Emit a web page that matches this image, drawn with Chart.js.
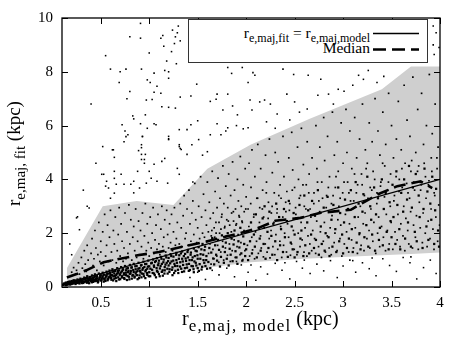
<!DOCTYPE html>
<html>
<head>
<meta charset="utf-8">
<script src="https://cdn.jsdelivr.net/npm/chart.js@4.4.1/dist/chart.umd.min.js"></script>
<style>
  body { margin:0; background:#fff; }
  #wrap { position:relative; width:463px; height:348px; font-family:'Liberation Serif','DejaVu Serif',serif; color:#000; }
  canvas { position:absolute; left:0; top:0; }
  .ttl { position:absolute; font-size:19px; line-height:19px; white-space:nowrap; }
  .ttl sub { font-size:15px; vertical-align:-5px; line-height:0; }
  #xtitle { font-size:20px; }
  #xtitle sub { font-size:17px; letter-spacing:1.2px; vertical-align:-6px; }
  #ytitle { transform:rotate(-90deg); transform-origin:0 0; }
  #legend { position:absolute; left:188px; top:19px; width:240px; height:44px; box-sizing:border-box;
            border:1px solid #333; background:#fff; }
  #legend .row { position:absolute; right:57px; font-size:15.5px; line-height:16px; white-space:nowrap; }
  #legend .row sub { font-size:12px; vertical-align:-4px; line-height:0; }
  #legend svg { position:absolute; left:0; top:0; }
</style>
</head>
<body>
<div id="wrap">
  <canvas id="chart" width="463" height="348"></canvas>
  <div class="ttl" id="xtitle" style="left:182px; top:309px;">r<sub>e,maj, model</sub> (kpc)</div>
  <div class="ttl" id="ytitle" style="left:4px; top:206px;">r<sub>e,maj, fit</sub> (kpc)</div>
  <div id="legend">
    <div class="row" style="top:5px;">r<sub>e,maj,fit</sub> = r<sub>e,maj,model</sub></div>
    <div class="row" style="top:20px;">Median</div>
    <svg width="238" height="42">
      <line x1="184" y1="13.5" x2="230" y2="13.5" stroke="#000" stroke-width="1.3"/>
      <line x1="184" y1="29.5" x2="230" y2="29.5" stroke="#000" stroke-width="2.6" stroke-dasharray="13,6"/>
    </svg>
  </div>
</div>
<script>
// ---------------------------------------------------------------------------
// data
// ---------------------------------------------------------------------------
const xTicks = [0.5, 1, 1.5, 2, 2.5, 3, 3.5, 4];
const yTicks = [0, 2, 4, 6, 8, 10];

// grey band (upper / lower envelope)
const bandX  = [0.15, 0.52, 0.87, 1.25, 1.6, 2.05, 2.65, 3.4, 3.7, 4.0];
const bandHi = [0.7,  3.0,  3.2,  3.05, 4.4, 5.3,  6.25, 7.35, 8.2, 8.2];
const bandLo = [0.08, 0.2,  0.38, 0.6,  0.72, 0.92, 1.06, 1.18, 1.23, 1.28];

// median curve
const medX = [0.15, 0.25, 0.35, 0.53, 0.7, 0.88, 1.1, 1.4, 1.6, 1.91, 2.11, 2.3, 2.56, 2.77, 3.08, 3.36, 3.56, 3.8, 3.92];
const medY = [0.35, 0.48, 0.62, 0.92, 1.05, 1.18, 1.3, 1.54, 1.7, 1.98, 2.17, 2.46, 2.57, 2.76, 2.87, 3.45, 3.75, 3.93, 3.68];

// one-to-one line
const unitX = [0.1, 4];
const unitY = [0.1, 4];

// scattered galaxies, above the band
const outlierPts = [
[0.91,9.8],[0.8,9.3],[0.91,9.25],[1.12,9.25],[1.14,9.35],[1.24,9.55],[1.27,9.3],[1.3,9.7],[1.26,9.05],[1.32,9.15],[1.29,9.45],
[1.15,8.95],[1.23,8.75],[1.18,8.4],[1.2,8.0],[1.16,8.05],[1.28,8.3],[0.6,8.1],[0.7,8.0],[0.76,8.1],[0.92,8.1],[1.05,7.95],
[0.69,7.6],[0.8,7.27],[0.77,7.0],[0.98,7.7],[1.01,7.6],[1.08,7.46],[1.05,7.24],[1.12,7.2],[0.97,6.95],[1.03,6.97],[1.2,7.76],
[1.13,6.7],[1.2,6.68],[1.27,6.65],[1.32,7.06],[1.43,7.1],[1.49,7.54],[0.83,6.36],[0.96,6.4],[0.72,6.03],[0.75,5.8],[0.78,5.66],
[0.74,5.4],[0.91,6.07],[0.93,5.6],[0.98,5.9],[1.05,6.07],[1.07,6.03],[1.2,5.6],[1.2,5.48],[1.31,5.85],[1.39,5.85],[1.43,6.03],
[1.5,6.18],[0.52,5.22],[0.62,5.1],[0.92,5.18],[0.89,5.07],[1.31,5.29],[1.32,5.15],[1.44,5.29],[1.51,5.48],[1.63,5.66],[1.74,5.66],
[1.7,6.07],[1.81,5.92],[1.79,5.8],[1.97,5.88],[2.02,5.92],[1.63,6.9],[1.69,6.98],[1.7,7.17],[1.81,7.17],[1.76,6.58],[1.86,6.73],
[1.91,6.4],[1.81,8.16],[1.96,8.16],[2.02,7.6],[2.04,6.95],[2.07,7.97],[1.85,7.94],
[0.76,5.59],[0.93,5.59],[1.2,5.51],[0.63,5.1],[0.64,4.82],[0.92,4.93],[0.92,4.74],[0.96,4.93],[0.95,4.6],[1.05,4.56],[1.13,4.67],
[1.16,4.78],[1.31,5.22],[1.33,5.11],[1.39,4.93],[1.29,4.41],[1.31,4.19],[0.51,4.19],[0.56,3.93],[0.55,3.75],[0.64,4.04],[0.71,4.19],
[0.74,3.82],[0.81,3.82],[0.84,3.93],[1.0,4.3],[1.02,4.04],[1.08,3.93],[1.19,3.86],[0.64,3.49],[0.36,3.0],[0.25,2.57],[0.28,2.13],
[0.88,4.3],[1.6,5.03],
[2.09,7.87],[2.38,8.1],[2.49,7.9],[2.64,7.87],[2.77,7.72],[2.95,7.35],[3.01,7.28],[3.16,7.87],[3.21,7.72],[3.26,8.05],[3.42,7.83],
[2.14,6.88],[2.19,6.95],[2.25,6.8],[2.42,7.17],[2.5,6.88],[2.74,7.13],[2.85,7.17],[2.06,6.58],[2.21,6.14],[2.32,6.43],[2.45,6.21],
[2.63,6.62],[3.93,9.7],[3.96,9.45],[3.93,9.0],[3.94,8.64],[3.86,8.45],[3.99,8.9],
[1.64,9.9],[2.11,9.92],[2.63,9.9],[3.18,9.91],[3.73,9.9],
[0.38,2.94],[0.26,2.61],[0.53,4.19],[0.58,3.68],[0.64,4.3],[0.66,3.82],[0.6,3.3],[0.84,6.25],[0.84,3.5],[0.9,3.68],[0.97,3.86],
[0.92,5.29],[0.95,4.74],[0.2,1.2],[0.18,1.6],[0.32,3.6],[0.45,4.6],[0.4,6.8],[1.0,8.7],[0.55,8.6],[1.45,3.9],[1.55,4.9],
[1.9,6.0],[2.3,5.9],[2.55,6.5],[2.9,6.8],[3.1,7.5],[3.35,7.6]
];

// medium density, inside the band
const spreadPts = [
[0.2,0.55],[0.22,0.72],[0.25,0.62],[0.27,0.9],[0.28,0.48],[0.3,1.1],[0.31,0.7],[0.33,1.35],[0.34,0.85],[0.35,0.58],[0.36,1.55],
[0.37,1.0],[0.38,0.66],[0.4,1.25],[0.41,1.8],[0.42,0.8],[0.43,1.05],[0.44,2.1],[0.45,1.45],[0.46,0.62],[0.47,1.2],[0.48,2.4],
[0.49,0.95],[0.5,1.7],[0.5,1.3],
[0.52,2.05],[0.53,0.8],[0.54,2.7],[0.55,1.15],[0.56,1.55],[0.57,2.3],[0.58,0.95],[0.59,1.85],[0.6,2.85],[0.61,1.3],[0.62,1.0],
[0.63,2.1],[0.64,1.6],[0.65,2.6],[0.66,0.9],[0.67,1.35],[0.68,1.95],[0.69,2.95],[0.7,1.15],[0.71,2.35],[0.72,1.7],[0.73,0.95],
[0.74,1.45],[0.75,2.75],[0.76,1.05],[0.77,2.05],[0.78,1.25],[0.79,3.05],[0.8,1.6],[0.81,2.5],[0.82,1.0],[0.83,1.85],[0.84,2.25],
[0.85,1.35],[0.86,2.9],[0.87,1.1],[0.88,1.7],[0.89,2.45],[0.9,1.2],[0.91,2.1],[0.92,1.5],[0.93,2.75],[0.94,1.05],[0.95,1.9],
[0.96,3.1],[0.97,1.35],[0.98,2.35],[0.99,1.65],[1.0,1.15],[1.01,2.6],[1.02,1.45],[1.03,2.0],[1.04,2.95],[1.05,1.25],[1.06,1.75],
[1.07,2.3],[1.08,1.4],[1.09,2.7],[1.1,1.6],[1.11,1.2],[1.12,2.15],[1.13,3.0],[1.14,1.5],[1.15,1.85],[1.16,2.5],[1.17,1.3],
[1.18,2.85],[1.19,1.95],[1.2,1.45],[1.21,2.35],[1.22,1.65],[1.23,2.7],[1.24,1.35],[1.25,2.05],[1.26,2.95],[1.27,1.55],[1.28,1.8],
[1.29,2.4],
[1.31,1.6],[1.32,3.1],[1.33,2.2],[1.34,1.5],[1.35,2.65],[1.36,3.4],[1.37,1.8],[1.38,2.0],[1.39,2.9],[1.4,1.55],[1.41,3.6],
[1.42,2.35],[1.43,1.7],[1.44,2.75],[1.45,3.2],[1.46,1.95],[1.47,3.85],[1.48,2.5],[1.49,1.65],[1.5,2.2],[1.51,3.0],[1.52,1.8],
[1.53,4.1],[1.54,2.6],[1.55,2.0],[1.56,3.45],[1.57,1.85],[1.58,2.85],[1.59,2.3],[1.6,3.9],[1.61,2.05],[1.62,3.15],[1.63,2.55],
[1.64,1.9],[1.65,4.3],[1.66,2.75],[1.67,2.2],[1.68,3.55],[1.69,2.0],[1.7,2.95],[1.71,4.05],[1.72,2.4],[1.73,3.3],[1.74,2.15],
[1.75,2.7],[1.76,4.5],[1.77,3.1],[1.78,2.25],[1.79,3.75],[1.8,2.5],[1.81,2.95],[1.82,4.2],[1.83,2.3],[1.84,3.4],[1.85,2.75],
[1.86,4.65],[1.87,2.45],[1.88,3.6],[1.89,2.9],[1.9,2.35],[1.91,4.0],[1.92,3.2],[1.93,2.6],[1.94,4.85],[1.95,3.0],[1.96,2.4],
[1.97,3.8],[1.98,2.8],[1.99,4.4],[2.0,3.35],
[2.02,2.9],[2.03,4.6],[2.05,3.7],[2.06,5.1],[2.08,2.7],[2.09,4.1],[2.11,3.3],[2.12,5.3],[2.14,2.95],[2.15,4.4],[2.17,3.6],
[2.18,2.6],[2.2,4.9],[2.21,3.9],[2.23,3.15],[2.24,5.5],[2.26,2.75],[2.27,4.25],[2.29,3.5],[2.3,5.0],[2.32,2.9],[2.33,4.65],
[2.35,3.8],[2.36,3.3],[2.38,5.6],[2.39,4.1],[2.41,2.8],[2.42,3.55],[2.44,4.8],[2.45,3.1],[2.47,5.75],[2.48,4.35],[2.5,3.7],
[2.51,2.95],[2.53,5.2],[2.54,4.0],[2.56,3.4],[2.57,5.9],[2.59,4.55],[2.6,3.0],[2.62,3.8],[2.63,5.4],[2.65,4.2],[2.66,2.9],
[2.68,4.8],
[2.7,3.5],[2.72,6.0],[2.73,4.4],[2.75,3.2],[2.76,5.2],[2.78,3.9],[2.8,6.3],[2.81,4.7],[2.83,3.4],[2.84,5.6],[2.86,4.1],
[2.88,3.1],[2.89,6.5],[2.91,4.9],[2.92,3.7],[2.94,5.4],[2.95,4.3],[2.97,3.3],[2.98,6.1],[3.0,4.6],[3.01,3.9],[3.03,6.6],
[3.04,5.0],[3.06,3.5],[3.07,5.8],[3.09,4.4],[3.11,3.2],[3.12,6.3],[3.14,4.8],[3.15,3.8],[3.17,5.5],[3.19,4.2],[3.2,6.8],
[3.22,3.4],[3.23,5.1],[3.25,4.6],[3.27,6.1],[3.28,3.7],[3.3,5.4],[3.31,4.3],[3.33,7.0],[3.35,3.5],[3.36,5.8],[3.38,4.9],
[3.39,3.9],[3.41,6.5],[3.43,4.5],[3.44,5.3],[3.46,3.6],[3.47,7.2],[3.49,4.2],[3.5,6.0],[3.52,4.8],[3.53,3.4],[3.55,5.5],
[3.57,6.9],[3.58,4.0],[3.6,5.1],[3.61,3.7],[3.63,7.5],[3.64,4.6],[3.66,6.2],[3.67,3.5],[3.69,5.6],[3.7,4.3],[3.72,7.8],
[3.73,3.9],[3.75,5.0],[3.77,6.6],[3.78,4.5],[3.8,3.6],[3.81,7.2],[3.83,5.3],[3.85,4.1],[3.86,6.0],[3.88,3.8],[3.89,7.9],
[3.91,4.8],[3.92,5.7],[3.94,3.5],[3.95,6.8],[3.97,4.4],[3.98,5.2]
];

// dense core around / below the 1:1 line
const corePts = [
[0.11,0.08],[0.12,0.13],[0.13,0.1],[0.14,0.16],[0.14,0.07],[0.15,0.12],[0.16,0.18],[0.16,0.1],[0.17,0.14],[0.18,0.2],[0.18,0.09],
[0.19,0.16],[0.2,0.12],[0.2,0.22],[0.21,0.18],[0.22,0.14],[0.22,0.25],[0.23,0.2],[0.24,0.11],[0.24,0.17],[0.25,0.23],[0.26,0.15],
[0.26,0.28],[0.27,0.2],[0.28,0.13],[0.28,0.24],[0.29,0.31],[0.3,0.18],[0.3,0.26],
[0.31,0.22],[0.32,0.3],[0.32,0.15],[0.33,0.35],[0.34,0.2],[0.34,0.27],[0.35,0.33],[0.36,0.18],[0.36,0.4],[0.37,0.25],[0.38,0.31],
[0.38,0.14],[0.39,0.37],[0.4,0.22],[0.4,0.29],[0.41,0.43],[0.42,0.34],[0.42,0.19],[0.43,0.27],[0.44,0.39],[0.44,0.47],[0.45,0.23],
[0.46,0.32],[0.46,0.41],[0.47,0.17],[0.48,0.28],[0.48,0.5],[0.49,0.36],[0.5,0.44],[0.5,0.24],[0.51,0.31],[0.52,0.53],[0.52,0.39],
[0.53,0.2],[0.54,0.46],[0.54,0.28],[0.55,0.35],[0.56,0.57],[0.56,0.42],[0.57,0.25],[0.58,0.5],[0.58,0.33],[0.59,0.61],[0.6,0.38],
[0.6,0.45],
[0.61,0.27],[0.62,0.55],[0.62,0.66],[0.63,0.4],[0.64,0.31],[0.64,0.5],[0.65,0.6],[0.66,0.22],[0.66,0.44],[0.67,0.7],[0.68,0.36],
[0.68,0.53],[0.69,0.62],[0.7,0.29],[0.7,0.47],[0.71,0.74],[0.72,0.4],[0.72,0.58],[0.73,0.66],[0.74,0.33],[0.74,0.51],[0.75,0.78],
[0.76,0.44],[0.76,0.62],[0.77,0.26],[0.78,0.55],[0.78,0.7],[0.79,0.38],[0.8,0.49],[0.8,0.82],[0.81,0.6],[0.82,0.31],[0.82,0.73],
[0.83,0.45],[0.84,0.56],[0.84,0.86],[0.85,0.39],[0.86,0.66],[0.86,0.5],[0.87,0.78],[0.88,0.29],[0.88,0.6],[0.89,0.9],[0.9,0.43],
[0.9,0.7],[0.91,0.54],[0.92,0.82],[0.92,0.36],[0.93,0.64],[0.94,0.94],[0.94,0.48],[0.95,0.74],[0.96,0.58],[0.96,0.33],[0.97,0.86],
[0.98,0.68],[0.98,0.45],[0.99,0.98],[1.0,0.55],[1.0,0.77],
[1.01,0.4],[1.02,0.88],[1.03,0.64],[1.04,1.02],[1.05,0.5],[1.05,0.75],[1.06,0.93],[1.07,0.36],[1.08,0.6],[1.08,1.07],[1.09,0.81],
[1.1,0.48],[1.1,0.98],[1.11,0.69],[1.12,1.12],[1.13,0.56],[1.13,0.86],[1.14,0.42],[1.15,1.02],[1.16,0.74],[1.16,0.62],[1.17,1.17],
[1.18,0.9],[1.19,0.5],[1.2,0.8],[1.2,1.08],[1.21,0.66],[1.22,1.22],[1.23,0.95],[1.24,0.44],[1.24,0.73],[1.25,1.13],[1.26,0.86],
[1.27,0.6],[1.28,1.27],[1.28,1.0],[1.29,0.78],[1.3,0.52],[1.31,1.18],[1.32,0.92],[1.33,0.68],[1.34,1.32],[1.34,1.05],[1.35,0.82],
[1.36,0.58],[1.37,1.23],[1.38,0.97],[1.39,0.72],[1.4,1.38],[1.4,1.1],[1.41,0.86],[1.42,0.63],[1.43,1.28],[1.44,1.0],[1.45,0.77],
[1.46,1.43],[1.46,0.55],[1.47,1.15],[1.48,0.9],[1.49,1.33],[1.5,0.7],[1.5,1.05],
[1.51,1.48],[1.52,0.85],[1.53,1.22],[1.54,0.65],[1.55,1.6],[1.56,1.0],[1.57,1.37],[1.58,0.78],[1.59,1.15],[1.6,1.7],[1.61,0.93],
[1.62,1.45],[1.63,0.7],[1.64,1.28],[1.65,1.82],[1.66,1.06],[1.67,0.84],[1.68,1.55],[1.69,1.2],[1.7,0.98],[1.71,1.75],[1.72,1.38],
[1.73,0.76],[1.74,1.12],[1.75,1.92],[1.76,1.5],[1.77,0.9],[1.78,1.3],[1.79,1.65],[1.8,1.05],[1.81,2.0],[1.82,0.8],[1.83,1.42],
[1.84,1.2],[1.85,1.8],[1.86,0.96],[1.87,1.58],[1.88,2.1],[1.89,1.33],[1.9,1.1],[1.91,0.86],[1.92,1.7],[1.93,1.47],[1.94,2.2],
[1.95,1.25],[1.96,0.98],[1.97,1.88],[1.98,1.6],[1.99,1.15],[2.0,1.4],
[2.01,2.05],[2.02,1.0],[2.04,1.7],[2.05,2.4],[2.06,1.25],[2.08,1.95],[2.09,1.5],[2.1,2.7],[2.11,1.1],[2.13,2.2],[2.14,1.8],
[2.15,1.35],[2.17,2.55],[2.18,1.6],[2.19,3.0],[2.2,1.05],[2.22,2.05],[2.23,1.45],[2.24,2.8],[2.26,1.9],[2.27,1.2],[2.28,2.35],
[2.3,1.7],[2.31,3.1],[2.32,1.0],[2.34,2.6],[2.35,1.55],[2.36,2.15],[2.38,1.3],[2.39,2.9],[2.4,1.85],[2.42,2.45],[2.43,1.12],
[2.44,3.2],[2.46,1.65],[2.47,2.25],[2.48,1.4],[2.49,2.75],[2.5,1.95],[2.5,1.1],
[2.52,2.55],[2.53,1.3],[2.55,3.05],[2.56,1.8],[2.57,2.1],[2.59,1.15],[2.6,3.4],[2.61,1.55],[2.63,2.4],[2.64,2.85],[2.65,1.25],
[2.67,1.95],[2.68,3.2],[2.7,1.45],[2.71,2.65],[2.72,1.75],[2.74,3.6],[2.75,1.2],[2.77,2.25],[2.78,1.6],[2.8,2.95],[2.81,1.35],
[2.82,2.0],[2.84,3.35],[2.85,1.85],[2.86,1.15],[2.88,2.5],[2.89,1.5],[2.9,3.05],[2.92,2.15],[2.93,1.3],[2.95,3.7],[2.96,1.7],
[2.97,2.75],[2.99,1.95],[3.0,1.25],
[3.01,2.4],[3.02,3.25],[3.04,1.45],[3.05,2.9],[3.06,1.8],[3.08,3.6],[3.09,2.15],[3.1,1.3],[3.12,2.6],[3.13,3.9],[3.14,1.65],
[3.16,3.1],[3.17,2.0],[3.18,1.4],[3.2,2.8],[3.21,3.45],[3.22,1.85],[3.24,2.3],[3.25,4.1],[3.26,1.5],[3.28,3.0],[3.29,2.5],
[3.3,1.95],[3.32,3.7],[3.33,1.35],[3.34,2.7],[3.36,3.3],[3.37,1.75],[3.38,2.2],[3.4,4.0],[3.41,1.55],[3.42,2.9],[3.44,3.5],
[3.45,2.05],[3.47,1.4],[3.48,3.15],[3.49,2.45],[3.5,1.85],
[3.51,3.8],[3.52,2.6],[3.54,1.6],[3.55,4.3],[3.56,3.05],[3.58,2.15],[3.59,1.4],[3.6,3.5],[3.62,2.8],[3.63,4.0],[3.64,1.8],
[3.66,3.25],[3.67,2.4],[3.68,4.5],[3.7,1.5],[3.71,2.95],[3.72,3.7],[3.74,2.05],[3.75,4.2],[3.76,1.7],[3.78,3.4],[3.79,2.6],
[3.8,3.9],[3.82,1.45],[3.83,2.9],[3.84,4.4],[3.86,2.25],[3.87,3.55],[3.88,1.75],[3.9,3.1],[3.91,2.5],[3.92,4.1],[3.94,1.6],
[3.95,2.85],[3.96,3.65],[3.98,2.1],[3.99,1.5]
];

// second pass over the dense strip at small radii
const coreLeftPts = [
[0.125,0.095],[0.138,0.15],[0.152,0.085],[0.167,0.125],[0.173,0.19],[0.186,0.145],[0.195,0.105],[0.208,0.2],[0.215,0.135],
[0.228,0.17],[0.236,0.24],[0.247,0.145],[0.253,0.195],[0.266,0.255],[0.274,0.165],[0.283,0.205],[0.291,0.27],[0.305,0.145],
[0.313,0.235],[0.327,0.19],[0.338,0.3],[0.349,0.245],[0.356,0.16],[0.367,0.31],[0.374,0.205],[0.389,0.265],[0.396,0.34],
[0.408,0.175],[0.417,0.255],[0.428,0.36],[0.436,0.215],[0.449,0.3],[0.457,0.38],[0.468,0.245],[0.473,0.195],[0.486,0.335],
[0.494,0.42],[0.507,0.265],[0.516,0.355],[0.527,0.45],[0.535,0.31],[0.548,0.225],[0.557,0.4],[0.566,0.49],[0.574,0.29],
[0.587,0.38],[0.596,0.52],[0.607,0.34],[0.615,0.44],[0.628,0.245],[0.636,0.58],[0.647,0.415],[0.655,0.335],[0.668,0.5],
[0.676,0.6],[0.687,0.28],[0.695,0.455],[0.706,0.54],[0.717,0.355],[0.726,0.64],[0.738,0.46],[0.745,0.3],[0.758,0.53],
[0.766,0.69],[0.777,0.41],[0.786,0.6],[0.795,0.285],[0.807,0.52],[0.816,0.72],[0.827,0.42],[0.835,0.63],[0.848,0.35],
[0.856,0.77],[0.867,0.56],[0.874,0.44],[0.887,0.68],[0.895,0.33],[0.906,0.6],[0.915,0.8],[0.927,0.5],[0.935,0.7],[0.946,0.4],
[0.958,0.85],[0.965,0.63],[0.977,0.52],[0.986,0.76],[0.995,0.4],[1.012,0.68],[1.027,0.9],[1.036,0.52],[1.048,0.8],[1.057,0.44],
[1.068,0.97],[1.076,0.7],[1.087,0.56],[1.096,0.88],[1.108,0.4],[1.117,0.78],[1.126,1.05],[1.138,0.62],[1.146,0.92],[1.157,0.5],
[1.168,0.83],[1.176,1.1],[1.187,0.68],[1.195,0.96],[1.208,0.56],[1.216,0.88],[1.227,1.15],[1.235,0.64],[1.248,0.98],[1.257,0.52],
[1.266,0.78],[1.278,1.2],[1.286,0.9],[1.297,0.64],[1.306,1.05],[1.318,0.76],[1.327,1.25],[1.338,0.56],[1.346,0.95],[1.357,1.15],
[1.368,0.7],[1.376,1.06],[1.387,0.84],[1.395,1.3],[1.408,0.6],[1.416,1.0],[1.427,1.2],[1.436,0.78],[1.448,1.1],[1.457,0.66],
[1.466,0.95],[1.478,1.35],[1.486,0.8],[1.497,1.18],[1.512,0.6],[1.527,1.05],[1.538,1.4],[1.546,0.75],[1.557,1.2],[1.568,0.9],
[1.576,1.5],[1.588,1.0],[1.597,0.68]
];

// second pass over the broad cloud at large radii
const coreRightPts = [
[1.612,1.25],[1.627,1.6],[1.638,0.85],[1.646,2.1],[1.657,1.4],[1.668,1.05],[1.676,1.85],[1.688,2.4],[1.697,1.15],[1.706,1.55],
[1.717,0.92],[1.726,2.0],[1.738,1.3],[1.746,2.6],[1.757,1.7],[1.768,1.0],[1.777,2.2],[1.786,1.45],[1.795,1.9],[1.807,1.18],
[1.816,2.45],[1.827,1.6],[1.836,0.95],[1.847,2.05],[1.856,1.35],[1.868,2.8],[1.876,1.75],[1.887,1.1],[1.895,2.3],[1.906,1.5],
[1.917,1.95],[1.926,2.65],[1.937,1.2],[1.946,1.65],[1.957,2.45],[1.966,1.02],[1.978,2.1],[1.987,1.35],[1.996,2.9],
[2.013,1.55],[2.028,2.25],[2.036,1.15],[2.047,3.1],[2.058,1.85],[2.066,1.38],[2.078,2.6],[2.087,1.05],[2.096,2.05],[2.107,1.7],
[2.118,3.3],[2.126,1.25],[2.137,2.4],[2.148,1.9],[2.156,1.45],[2.167,2.9],[2.178,1.12],[2.186,2.2],[2.197,1.6],[2.208,3.5],
[2.216,1.3],[2.227,2.55],[2.238,1.8],[2.246,1.08],[2.257,2.1],[2.268,3.0],[2.276,1.5],[2.287,2.4],[2.296,1.2],[2.307,1.95],
[2.318,2.75],[2.326,1.4],[2.337,3.4],[2.348,1.7],[2.356,2.25],[2.367,1.1],[2.378,2.6],[2.386,1.55],[2.397,2.0],[2.408,3.15],
[2.416,1.3],[2.427,2.35],[2.438,1.85],[2.446,2.85],[2.457,1.18],[2.468,1.6],[2.476,3.6],[2.487,2.1],[2.496,1.4],
[2.513,2.7],[2.524,1.2],[2.537,2.0],[2.548,3.3],[2.556,1.5],[2.567,2.4],[2.578,1.75],[2.586,3.8],[2.597,1.3],[2.608,2.2],
[2.616,2.9],[2.627,1.15],[2.638,1.9],[2.646,3.5],[2.657,1.6],[2.668,2.6],[2.676,1.35],[2.687,2.1],[2.698,3.1],[2.706,1.8],
[2.717,1.25],[2.728,2.45],[2.736,3.9],[2.747,1.5],[2.758,2.8],[2.766,2.05],[2.777,1.1],[2.788,3.3],[2.796,1.7],[2.807,2.4],
[2.818,1.3],[2.826,2.95],[2.837,1.9],[2.848,3.7],[2.856,1.45],[2.867,2.2],[2.878,1.2],[2.886,2.65],[2.897,3.4],[2.908,1.65],
[2.916,2.0],[2.927,4.1],[2.938,1.35],[2.946,2.5],[2.957,3.0],[2.968,1.8],[2.976,2.3],[2.987,1.15],[2.996,3.5],
[3.013,1.6],[3.024,2.7],[3.036,2.05],[3.047,3.9],[3.058,1.3],[3.066,2.35],[3.077,3.2],[3.088,1.75],[3.096,2.9],[3.107,1.45],
[3.118,4.2],[3.126,2.2],[3.137,3.5],[3.148,1.25],[3.156,2.6],[3.167,1.95],[3.178,3.0],[3.186,1.55],[3.197,3.8],[3.208,2.35],
[3.216,1.35],[3.227,2.75],[3.238,4.4],[3.246,1.8],[3.257,3.3],[3.268,2.1],[3.276,1.45],[3.287,2.9],[3.296,3.6],[3.307,1.7],
[3.318,2.4],[3.326,4.0],[3.337,1.25],[3.348,3.1],[3.356,2.0],[3.367,2.6],[3.378,1.5],[3.386,3.75],[3.397,2.25],[3.408,4.6],
[3.416,1.85],[3.427,3.35],[3.438,1.35],[3.446,2.7],[3.457,2.1],[3.468,3.9],[3.476,1.6],[3.487,3.0],[3.496,2.4],
[3.513,1.4],[3.524,3.2],[3.536,2.05],[3.547,4.1],[3.558,1.75],[3.566,2.7],[3.577,3.55],[3.588,1.5],[3.596,2.35],[3.607,4.4],
[3.618,1.9],[3.626,3.0],[3.637,1.35],[3.648,2.55],[3.656,3.85],[3.667,2.1],[3.678,1.6],[3.686,3.3],[3.697,2.8],[3.708,4.7],
[3.716,1.45],[3.727,2.3],[3.738,3.6],[3.746,1.85],[3.757,2.65],[3.768,4.3],[3.776,1.4],[3.787,3.15],[3.796,2.2],[3.807,3.8],
[3.818,1.65],[3.826,2.75],[3.837,4.6],[3.848,2.0],[3.856,3.3],[3.867,1.5],[3.878,2.45],[3.886,3.95],[3.897,1.8],[3.908,2.9],
[3.916,4.3],[3.927,2.15],[3.938,1.4],[3.946,3.4],[3.957,2.6],[3.968,4.8],[3.976,1.7],[3.987,3.05],[3.996,2.3]
];

// few objects below the band
const lowPts = [
[1.42,0.35],[1.5,0.55],[1.58,0.28],[1.65,0.62],[1.72,0.45],[1.8,0.7],[1.88,0.38],[1.95,0.82],[2.02,0.55],[2.1,0.25],[2.15,0.75],
[2.22,0.48],[2.3,0.88],[2.37,0.62],[2.45,0.3],[2.52,0.95],[2.58,0.7],[2.66,0.5],[2.73,0.85],[2.8,0.6],[2.87,0.98],[2.94,0.35],
[3.0,0.78],[3.07,1.0],[3.13,0.55],[3.2,0.9],[3.27,0.68],[3.34,0.42],[3.41,1.05],[3.48,0.8],[3.55,0.58],[3.62,1.1],[3.69,0.9],
[3.76,0.3],[3.83,0.72],[3.9,1.0],[3.96,0.5],[1.9,0.95],[2.6,1.0],[3.3,1.08],[2.05,0.82],[2.4,0.9],[3.1,0.98],[3.7,1.12]
];

// ---------------------------------------------------------------------------
const FONT = "'Liberation Serif', 'DejaVu Serif', serif";
const xy  = (xs, ys) => xs.map((x, i) => ({ x, y: ys[i] }));
const pts = arr => arr.map(p => ({ x: p[0], y: p[1] }));

function dots(data, r){
  return { data: pts(data), pointStyle: 'rect', pointRadius: r, pointHoverRadius: r,
           backgroundColor: '#000', borderWidth: 0, showLine: false, order: 1 };
}

// inward ticks on all four sides + frame, gnuplot style
const frame = {
  id: 'frame',
  afterDatasetsDraw(chart){
    const { ctx, chartArea: a, scales } = chart;
    ctx.save();
    ctx.strokeStyle = '#000';
    ctx.lineWidth = 1;
    ctx.beginPath();
    xTicks.forEach(v => {
      const px = Math.round(scales.x.getPixelForValue(v)) + 0.5;
      ctx.moveTo(px, a.bottom); ctx.lineTo(px, a.bottom - 6);
      ctx.moveTo(px, a.top);    ctx.lineTo(px, a.top + 6);
    });
    yTicks.forEach(v => {
      const py = Math.round(scales.y.getPixelForValue(v)) + 0.5;
      ctx.moveTo(a.left, py);  ctx.lineTo(a.left + 6, py);
      ctx.moveTo(a.right, py); ctx.lineTo(a.right - 6, py);
    });
    ctx.stroke();
    ctx.lineWidth = 1.3;
    ctx.strokeRect(a.left, a.top, a.right - a.left, a.bottom - a.top);
    ctx.restore();
  }
};

new Chart(document.getElementById('chart'), {
  type: 'scatter',
  data: { datasets: [
    { data: xy(unitX, unitY), showLine: true, borderColor: '#000', borderWidth: 1.3, pointRadius: 0, order: 0 },
    { data: xy(medX, medY), showLine: true, borderColor: '#000', borderWidth: 2.6, borderDash: [12, 6],
      pointRadius: 0, order: 0 },
    dots(corePts, 1.6),
    dots(coreLeftPts, 1.6),
    dots(coreRightPts, 1.2),
    dots(spreadPts, 1.2),
    dots(outlierPts, 1.1),
    dots(lowPts, 1.1),
    { data: xy(bandX, bandHi), showLine: true, borderWidth: 0, pointRadius: 0, fill: '+1',
      backgroundColor: '#cfcfcf', order: 2 },
    { data: xy(bandX, bandLo), showLine: true, borderWidth: 0, pointRadius: 0, order: 3 },
  ]},
  options: {
    responsive: false,
    devicePixelRatio: 1,
    animation: false,
    layout: { padding: { top: 15, right: 23, left: 0, bottom: 0 } },
    plugins: { legend: { display: false }, tooltip: { enabled: false } },
    scales: {
      x: {
        type: 'linear', min: 0.1, max: 4,
        afterBuildTicks: s => { s.ticks = xTicks.map(v => ({ value: v })); },
        afterFit: s => { s.height = 61; },
        ticks: { color: '#000', padding: 7, font: { family: FONT, size: 15 }, callback: v => String(v) },
        grid: { display: false, drawTicks: false },
        border: { display: false },
      },
      y: {
        min: 0, max: 10,
        afterBuildTicks: s => { s.ticks = yTicks.map(v => ({ value: v })); },
        afterFit: s => { s.width = 62; },
        ticks: { color: '#000', padding: 9, font: { family: FONT, size: 15 }, callback: v => String(v) },
        grid: { display: false, drawTicks: false },
        border: { display: false },
      },
    },
  },
  plugins: [frame],
});
</script>
</body>
</html>
